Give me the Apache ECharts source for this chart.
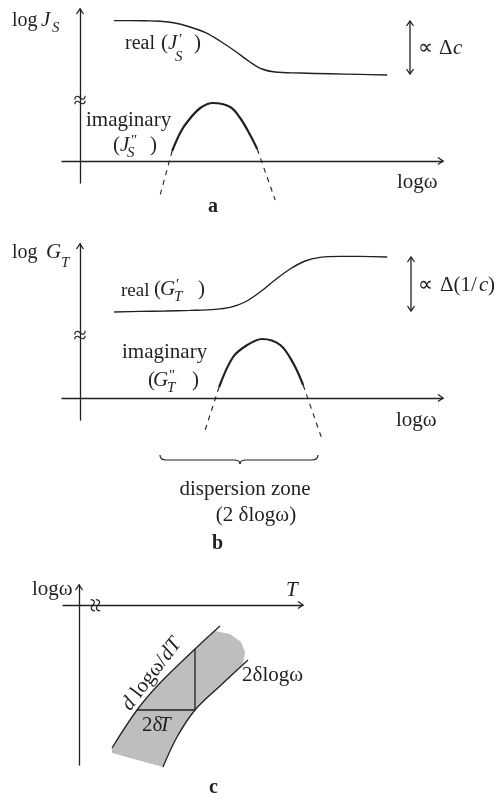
<!DOCTYPE html>
<html>
<head>
<meta charset="utf-8">
<script src="https://cdn.jsdelivr.net/npm/echarts@6/dist/echarts.min.js"></script>
<style>
  html, body { margin: 0; padding: 0; background: #fff; }
  #chart { width: 496px; height: 802px; }
</style>
</head>
<body>
<div id="chart"></div>
<script>
// ---- Panel a: compliance J_S versus log frequency (schematic units) ----
const realJS = [[1.87, 7.02], [2.75, 7.02], [3.58, 7.01], [4.41, 6.99], [5.23, 6.9], [6.06, 6.7],
                [6.88, 6.43], [7.71, 6.0], [8.53, 5.5], [9.36, 4.95], [10.02, 4.6], [10.74, 4.45],
                [12.12, 4.4], [13.77, 4.36], [15.43, 4.33], [16.92, 4.3]];
const imagJS = [[5.07, 0.5], [5.51, 1.4], [5.9, 1.95], [6.62, 2.65], [7.33, 2.9], [8.27, 2.7],
                [8.82, 2.15], [9.37, 1.3], [9.76, 0.6]];
const imagJSLowTail = [[5.07, 0.5], [4.41, -1.7]];
const imagJSHighTail = [[9.76, 0.6], [10.75, -1.95]];

// ---- Panel b: modulus G_T versus log frequency ----
const realGT = [[1.87, 4.3], [3.3, 4.33], [4.68, 4.35], [6.06, 4.38], [7.44, 4.43], [8.26, 4.53],
                [9.09, 4.8], [9.92, 5.3], [10.74, 5.9], [11.57, 6.45], [12.4, 6.85], [13.22, 7.03],
                [14.32, 7.08], [15.43, 7.08], [16.92, 7.05]];
const imagGT = [[7.66, 0.55], [8.43, 2.05], [9.21, 2.65], [10.03, 2.95], [11.03, 2.65],
                [11.74, 1.75], [12.29, 0.65]];
const imagGTLowTail = [[7.66, 0.55], [6.89, -1.6]];
const imagGTHighTail = [[12.29, 0.65], [13.29, -1.95]];

// ---- Panel c: dispersion band in the (T, log omega) plane ----
const bandUpperEdge = [[1.65, -7.15], [2.9, -5.25], [4.05, -3.9], [5.8, -2.2], [7.05, -1.05]];
const bandLowerEdge = [[4.2, -8.1], [4.9, -6.6], [5.8, -5.25], [7.05, -4.05], [8.45, -2.75]];
const bandOutline = [[1.65, -7.4], [1.65, -7.15], [2.9, -5.25], [4.05, -3.9], [5.8, -2.2],
                     [6.8, -1.3], [7.55, -1.45], [8.1, -1.85], [8.3, -2.35], [8.2, -2.95],
                     [7.05, -4.05], [5.8, -5.25], [4.9, -6.6], [4.2, -8.1]];
const slopeTriangle = [[2.9, -5.25], [5.8, -5.25], [5.8, -2.2]];

const INK = '#231f20';
const SERIF = "'Liberation Serif','Times New Roman',serif";

function axisPair(idx, xr, yr) {
  const line = { show: true, onZero: true, lineStyle: { color: INK, width: 1.3 } };
  return {
    x: { type: 'value', gridIndex: idx, min: xr[0], max: xr[1], axisLine: line,
         axisTick: { show: false }, axisLabel: { show: false }, splitLine: { show: false } },
    y: { type: 'value', gridIndex: idx, min: yr[0], max: yr[1], axisLine: line,
         axisTick: { show: false }, axisLabel: { show: false }, splitLine: { show: false } }
  };
}
const axA = axisPair(0, [-1, 20], [-1.1, 7.6]);
const axB = axisPair(1, [-1, 20], [-1.1, 7.7]);
const axC = axisPair(2, [-0.8, 11.2], [-8, 1]);

function curve(data, idx, width, opts) {
  return Object.assign({
    type: 'line', xAxisIndex: idx, yAxisIndex: idx, data: data,
    showSymbol: false, symbol: 'none', smooth: 0.35, silent: true, z: 3,
    lineStyle: { color: INK, width: width }
  }, opts || {});
}
function tail(data, idx) {
  return curve(data, idx, 1.1, { smooth: false, clip: false,
    lineStyle: { color: INK, width: 1.1, type: [5, 5] } });
}

// text helper: x = left edge, bl = baseline
function txt(x, bl, s, size, italic, bold, align) {
  size = size || 21;
  const font = (italic ? 'italic ' : '') + (bold ? 'bold ' : '') + size + 'px ' + SERIF;
  return { type: 'text', x: x, y: bl - 0.34 * size, silent: true, z: 100,
    style: { text: s, font: font, fill: INK, textAlign: align || 'left', textVerticalAlign: 'middle' } };
}
function poly(points, w) {
  return { type: 'polyline', silent: true, z: 100, shape: { points: points },
    style: { stroke: INK, lineWidth: w || 1.3, fill: null } };
}
function quad(x1, y1, cx, cy, x2, y2) {
  return { type: 'bezierCurve', silent: true, z: 100,
    shape: { x1: x1, y1: y1, cpx1: cx, cpy1: cy, x2: x2, y2: y2 },
    style: { stroke: INK, lineWidth: 1.2, fill: null } };
}
function chev(x, y, dir) {
  if (dir === 'up') return poly([[x - 3.5, y + 5], [x, y], [x + 3.5, y + 5]]);
  if (dir === 'down') return poly([[x - 3.5, y - 5], [x, y], [x + 3.5, y - 5]]);
  return poly([[x - 5, y - 3.5], [x, y], [x - 5, y + 3.5]]);
}

const graphics = [
  // axis arrow heads
  chev(80, 9, 'up'), chev(443, 161, 'right'),
  chev(80, 244, 'up'), chev(443, 398, 'right'),
  chev(79, 585, 'up'), chev(303, 605, 'right'),
  // double arrows
  poly([[410, 21], [410, 74]]), chev(410, 21, 'up'), chev(410, 74, 'down'),
  poly([[411, 257], [411, 311]]), chev(411, 257, 'up'), chev(411, 311, 'down'),
  // axis breaks
  txt(80, 110, '\u2248', 24, false, false, 'center'),
  txt(80, 345, '\u2248', 24, false, false, 'center'),
  { type: 'text', x: 97, y: 605, rotation: Math.PI / 2, silent: true, z: 100,
    style: { text: '\u2248', font: '26px ' + SERIF, fill: INK, textAlign: 'center', textVerticalAlign: 'middle' } },
  // brace under the dispersion zone
  quad(160, 455, 160, 460, 166, 460), poly([[166, 460], [234, 460]], 1.2),
  quad(234, 460, 240, 460, 240, 464), quad(240, 464, 240, 460, 246, 460),
  poly([[246, 460], [312, 460]], 1.2), quad(312, 460, 318, 460, 318, 455),

  // panel a text
  txt(12, 28, 'log', 20), txt(41, 28, 'J', 21, true), txt(52, 33, 'S', 15, true),
  txt(125, 51, 'real', 20), txt(161, 51, '('), txt(168, 51, 'J', 21, true), txt(179, 45, '\u2032', 15), txt(175, 62, 'S', 15, true), txt(194, 51, ')'),
  txt(86, 128, 'imaginary'),
  txt(113, 153, '('), txt(120, 153, 'J', 21, true), txt(131, 146, '\u2033', 15), txt(127, 158, 'S', 15, true), txt(150, 153, ')'),
  txt(397, 190, 'log\u03c9'),
  txt(208, 214, 'a', 20, false, true),
  txt(418, 56, '\u221d'), txt(439, 56, '\u0394'), txt(453, 56, 'c', 21, true),

  // panel b text
  txt(12, 260, 'log', 20), txt(46, 260, 'G', 21, true), txt(61, 268, 'T', 15, true),
  txt(121, 297, 'real', 19), txt(154, 297, '('), txt(160, 297, 'G', 21, true), txt(176, 290, '\u2032', 15), txt(174, 302, 'T', 15, true), txt(198, 297, ')'),
  txt(122, 360, 'imaginary'),
  txt(148, 388, '('), txt(153, 388, 'G', 21, true), txt(169, 381, '\u2033', 15), txt(167, 393, 'T', 15, true), txt(192, 388, ')'),
  txt(396, 428, 'log\u03c9'),
  txt(418, 293, '\u221d'), txt(440, 293, '\u0394(1/'), txt(479, 293, 'c', 21, true), txt(488, 293, ')'),
  txt(245, 497, 'dispersion zone', 21, false, false, 'center'),
  txt(256, 523, '(2 \u03b4log\u03c9)', 21, false, false, 'center'),
  txt(212, 551, 'b', 20, false, true),

  // panel c text
  txt(32, 597, 'log\u03c9'), txt(286, 598, 'T', 21, true),
  txt(242, 683, '2\u03b4log\u03c9'),
  txt(142, 733, '2\u03b4'), txt(159, 733, 'T', 21, true),
  txt(209, 795, 'c', 20, false, true),
  { type: 'group', x: 152, y: 674, rotation: 0.918, silent: true, z: 100,
    children: [
      txt(-43, 7, 'd', 21, true),
      txt(-27, 7, 'log\u03c9/'),
      txt(20, 7, 'dT', 21, true)
    ] }
];

const chart = echarts.init(document.getElementById('chart'), null, { renderer: 'canvas' });
chart.setOption({
  backgroundColor: '#ffffff',
  animation: false,
  grid: [
    { left: 62, right: 53, top: 9, bottom: 619 },
    { left: 62, right: 53, top: 244, bottom: 382 },
    { left: 63, right: 193, top: 585, bottom: 37 }
  ],
  xAxis: [axA.x, axB.x, axC.x],
  yAxis: [axA.y, axB.y, axC.y],
  series: [
    curve(realJS, 0, 1.4),
    curve(imagJS, 0, 2.2),
    tail(imagJSLowTail, 0),
    tail(imagJSHighTail, 0),
    curve(realGT, 1, 1.4),
    curve(imagGT, 1, 2.2),
    tail(imagGTLowTail, 1),
    tail(imagGTHighTail, 1),
    {
      type: 'custom', xAxisIndex: 2, yAxisIndex: 2, data: bandOutline, silent: true, z: 1, clip: false,
      renderItem: function (params, api) {
        if (params.dataIndex !== 0) return null;
        const pts = bandOutline.map(function (p) { return api.coord(p); });
        return { type: 'polygon', shape: { points: pts }, style: { fill: '#bdbec0' } };
      }
    },
    curve(bandUpperEdge, 2, 1.3, { clip: false }),
    curve(bandLowerEdge, 2, 1.3, { clip: false }),
    curve(slopeTriangle, 2, 1.3, { smooth: false })
  ],
  graphic: graphics
});
</script>
</body>
</html>
